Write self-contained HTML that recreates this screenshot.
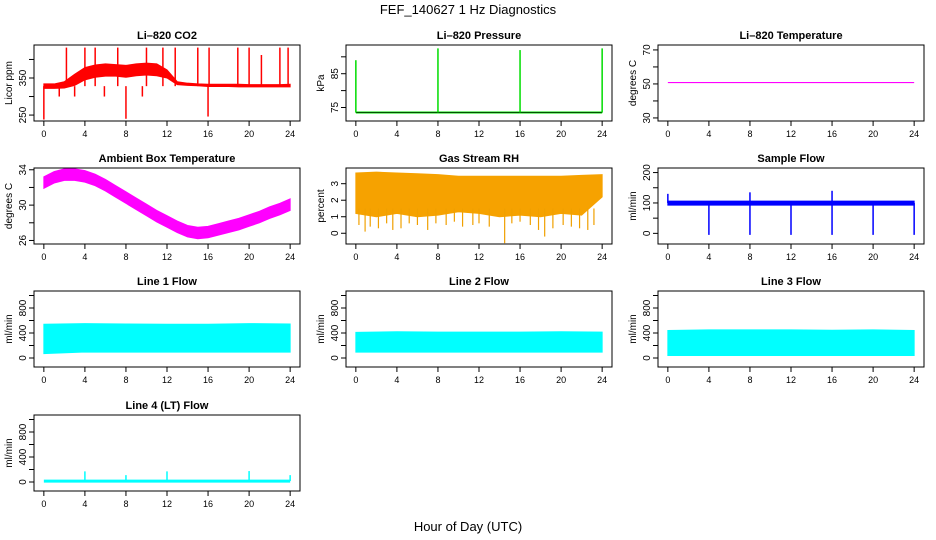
<!DOCTYPE html>
<html><head><meta charset="utf-8"><style>
body{margin:0;background:#fff}
svg{display:block}
text{font-family:"Liberation Sans",sans-serif;fill:#000}
</style></head><body>
<svg id="c" width="936" height="540" viewBox="0 0 936 540">
<text x="468" y="14" font-size="13" text-anchor="middle">FEF_140627  1 Hz Diagnostics</text>
<text x="468" y="531" font-size="13" text-anchor="middle">Hour of Day (UTC)</text>
</svg>
<script>
// ---- data ----
const xTicks=[0,4,8,12,16,20,24];
const co2Hours=[0,1,2,3,4,5,6,7,8,9,10,11,12,13,14,15,16,17,18,19,20,21,22,23,24];
const co2Low=[322,322,323,330,345,352,355,355,352,356,358,356,350,332,330,329,327,327,327,326,326,326,326,326,326];
const co2High=[334,334,340,360,378,385,388,386,384,388,390,388,372,340,336,334,333,333,333,333,332,332,332,332,333];
const co2SpikeHours=[2.2,4.0,5.0,7.2,10.0,11.6,12.8,15.0,16.1,18.9,20.0,21.2,23.0,23.8];
const co2SpikeTops=[432,432,432,432,432,432,432,432,432,432,432,412,432,432];
const co2DipHours=[0,8,16,3.0,5.9,9.6,1.5];
const co2DipBottoms=[238,240,246,300,300,300,300];
const presBase=73.5;
const presSpikeHours=[0,8,16,24];
const presSpikeTops=[89,92.5,92,92.5];
const tempLi=50.8;
const ambHours=[0,1,2,3,4,5,6,7,8,9,10,11,12,13,14,15,16,17,18,19,20,21,22,23,24];
const ambMid=[32.6,33.2,33.5,33.5,33.3,32.9,32.3,31.6,30.9,30.2,29.5,28.8,28.2,27.6,27.1,26.9,27.0,27.3,27.6,27.9,28.3,28.7,29.2,29.6,30.1];
const rhHours=[0,2,4,6,8,10,12,14,16,18,20,22,24];
const rhTop=[3.65,3.7,3.65,3.6,3.55,3.45,3.45,3.45,3.45,3.45,3.45,3.5,3.55];
const rhBottom=[1.2,1.0,1.2,1.0,1.1,1.3,1.2,1.0,1.1,1.0,1.2,1.1,2.2];
const rhDripHours=[0.3,0.9,1.4,2.2,3.0,3.6,4.4,5.2,6.0,7.0,7.8,8.8,9.6,10.4,11.4,12.0,13.0,14.5,15.2,16.0,17.0,17.8,18.4,19.2,20.2,21.0,21.8,22.6,23.2];
const rhDripDepth=[0.5,0.1,0.4,0.3,0.6,0.2,0.3,0.6,0.5,0.2,0.6,0.5,0.7,0.4,0.5,0.6,0.4,-0.6,0.6,0.7,0.5,0.2,-0.2,0.3,0.5,0.4,0.3,0.2,0.5];
const sfBase=100;
const sfDipHours=[4,8,12,16,20,24];
const sfUpHours=[0,8,16];
const sfUpTops=[130,135,140];
const l1Hours=[0,4,8,12,16,20,24];
const l1Low=[70,95,95,95,95,95,95];
const l1High=[540,550,545,540,540,550,545];
const l2Low=[95,95,95,95,95,95,95];
const l2High=[410,420,415,415,415,420,415];
const l3Low=[40,40,40,40,40,40,40];
const l3High=[440,450,450,450,445,450,440];
const l4Base=15;
const l4SpikeHours=[4,8,12,16,20,24];
const l4SpikeTops=[170,110,170,20,175,110];

// ---- layout ----
const NS="http://www.w3.org/2000/svg";
const svg=document.getElementById('c');
const colL=[34,346,658], W=266, rowT=[45,168,291,415], H=76;
function el(tag,attrs,parent){const e=document.createElementNS(NS,tag);for(const k in attrs)e.setAttribute(k,attrs[k]);(parent||svg).appendChild(e);return e;}
function panel(col,row,title,ylab,ymin,ymax,ticks,labels,name){
  const x0=colL[col],y0=rowT[row];
  const g=el('g',{});
  
  
  const sx=h=>x0+(h+0.96)/25.92*W;
  const sy=v=>y0+H-(v-ymin)/(ymax-ymin)*H;
  const clip=el('clipPath',{id:'cl'+name},g);
  el('rect',{x:x0,y:y0,width:W,height:H},clip);
  const plot=el('g',{'clip-path':'url(#cl'+name+')'},g);
  const frame=el('rect',{x:x0,y:y0,width:W,height:H,fill:'none',stroke:'#000','stroke-width':1},g);
  
  const t=el('text',{x:x0+W/2,y:y0-6,'font-size':11,'font-weight':'bold','text-anchor':'middle'},g);
  t.textContent=title;
  
  const yl=el('text',{x:0,y:0,'font-size':10,'text-anchor':'middle',transform:`translate(${x0-22},${y0+H/2}) rotate(-90)`},g);
  yl.textContent=ylab;
  
  xTicks.forEach(h=>{
    el('line',{x1:sx(h),x2:sx(h),y1:y0+H,y2:y0+H+5,stroke:'#000'},g);
    const tx=el('text',{x:sx(h),y:y0+H+16,'font-size':9,'text-anchor':'middle'},g);
    tx.textContent=h;
    
  });
  ticks.forEach((v,i)=>{
    el('line',{x1:x0-5,x2:x0,y1:sy(v),y2:sy(v),stroke:'#000'},g);
    if(labels[i]!==''){
      const tx=el('text',{x:0,y:0,'font-size':10,'text-anchor':'middle',transform:`translate(${x0-8},${sy(v)}) rotate(-90)`},g);
      tx.textContent=labels[i];
      
    }
  });
  return {sx,sy,plot};
}
function band(p,hours,low,high,color,name){
  let d='M'+hours.map((h,i)=>p.sx(h)+','+p.sy(high[i])).join('L');
  for(let i=hours.length-1;i>=0;i--)d+='L'+p.sx(hours[i])+','+p.sy(low[i]);
  const e=el('path',{d:d+'Z',fill:color,stroke:color,'stroke-width':1},p.plot);
  
  
}
function vline(p,h,v1,v2,color,name,w){
  const e=el('line',{x1:p.sx(h),x2:p.sx(h),y1:p.sy(v1),y2:p.sy(v2),stroke:color,'stroke-width':w||1.5},p.plot);
  
  
}
function hline(p,v,color,name,w){
  const e=el('line',{x1:p.sx(0),x2:p.sx(24),y1:p.sy(v),y2:p.sy(v),stroke:color,'stroke-width':w||1.5},p.plot);
  
  
}

// CO2
let p=panel(0,0,'Li\u2013820 CO2','Licor ppm',234,439,[250,300,350,400],['250','','350',''],'co2');
band(p,co2Hours,co2Low,co2High,'#ff0000','co2-band');
co2SpikeHours.forEach((h,i)=>vline(p,h,328,co2SpikeTops[i],'#ff0000','co2-spike'));
co2DipHours.forEach((h,i)=>vline(p,h,328,co2DipBottoms[i],'#ff0000','co2-dip'));
// Pressure
p=panel(1,0,'Li\u2013820 Pressure','kPa',71,93.5,[75,80,85,90],['75','','85',''],'pressure');
hline(p,presBase,'#00dd00','pressure-line',2);
hline(p,presBase,'#000','pressure-dots',0.6);
presSpikeHours.forEach((h,i)=>vline(p,h,presBase,presSpikeTops[i],'#00dd00','pressure-spike',1.5));
// Li temp
p=panel(2,0,'Li\u2013820 Temperature','degrees C',28.2,72.9,[30,40,50,60,70],['30','','50','','70'],'li-temp');
hline(p,tempLi,'#ff00ff','li-temp-line',1.2);
// Ambient
p=panel(0,1,'Ambient Box Temperature','degrees C',25.6,34.2,[26,28,30,32,34],['26','','30','','34'],'ambient');
band(p,ambHours,ambMid.map(v=>v-0.7),ambMid.map(v=>v+0.6),'#ff00ff','ambient-band');
// RH
p=panel(1,1,'Gas Stream RH','percent',-0.65,3.95,[0,1,2,3],['0','1','2','3'],'rh');
band(p,rhHours,rhBottom,rhTop,'#f6a200','rh-band');
rhDripHours.forEach((h,i)=>vline(p,h,1.5,rhDripDepth[i],'#f0a000','rh-drip',1.2));
// Sample flow
p=panel(2,1,'Sample Flow','ml/min',-35,215,[0,50,100,150,200],['0','','100','','200'],'sample-flow');
band(p,[0,24],[93,93],[106,106],'#0000ff','sample-flow-band');
sfDipHours.forEach(h=>vline(p,h,sfBase,-5,'#0000ff','sample-flow-dip',1.5));
sfUpHours.forEach((h,i)=>vline(p,h,sfBase,sfUpTops[i],'#0000ff','sample-flow-spike',1.5));
// Line flows
const fl=[-144,1072], ft=[0,200,400,600,800,1000], fl_l=['0','','400','','800',''];
p=panel(0,2,'Line 1 Flow','ml/min',fl[0],fl[1],ft,fl_l,'line1');
band(p,l1Hours,l1Low,l1High,'#00ffff','line1-band');
p=panel(1,2,'Line 2 Flow','ml/min',fl[0],fl[1],ft,fl_l,'line2');
band(p,l1Hours,l2Low,l2High,'#00ffff','line2-band');
p=panel(2,2,'Line 3 Flow','ml/min',fl[0],fl[1],ft,fl_l,'line3');
band(p,l1Hours,l3Low,l3High,'#00ffff','line3-band');
p=panel(0,3,'Line 4 (LT) Flow','ml/min',fl[0],fl[1],ft,fl_l,'line4');
hline(p,l4Base,'#00ffff','line4-line',3);
l4SpikeHours.forEach((h,i)=>vline(p,h,l4Base,l4SpikeTops[i],'#00ffff','line4-spike',1.5));
</script>
</body></html>
